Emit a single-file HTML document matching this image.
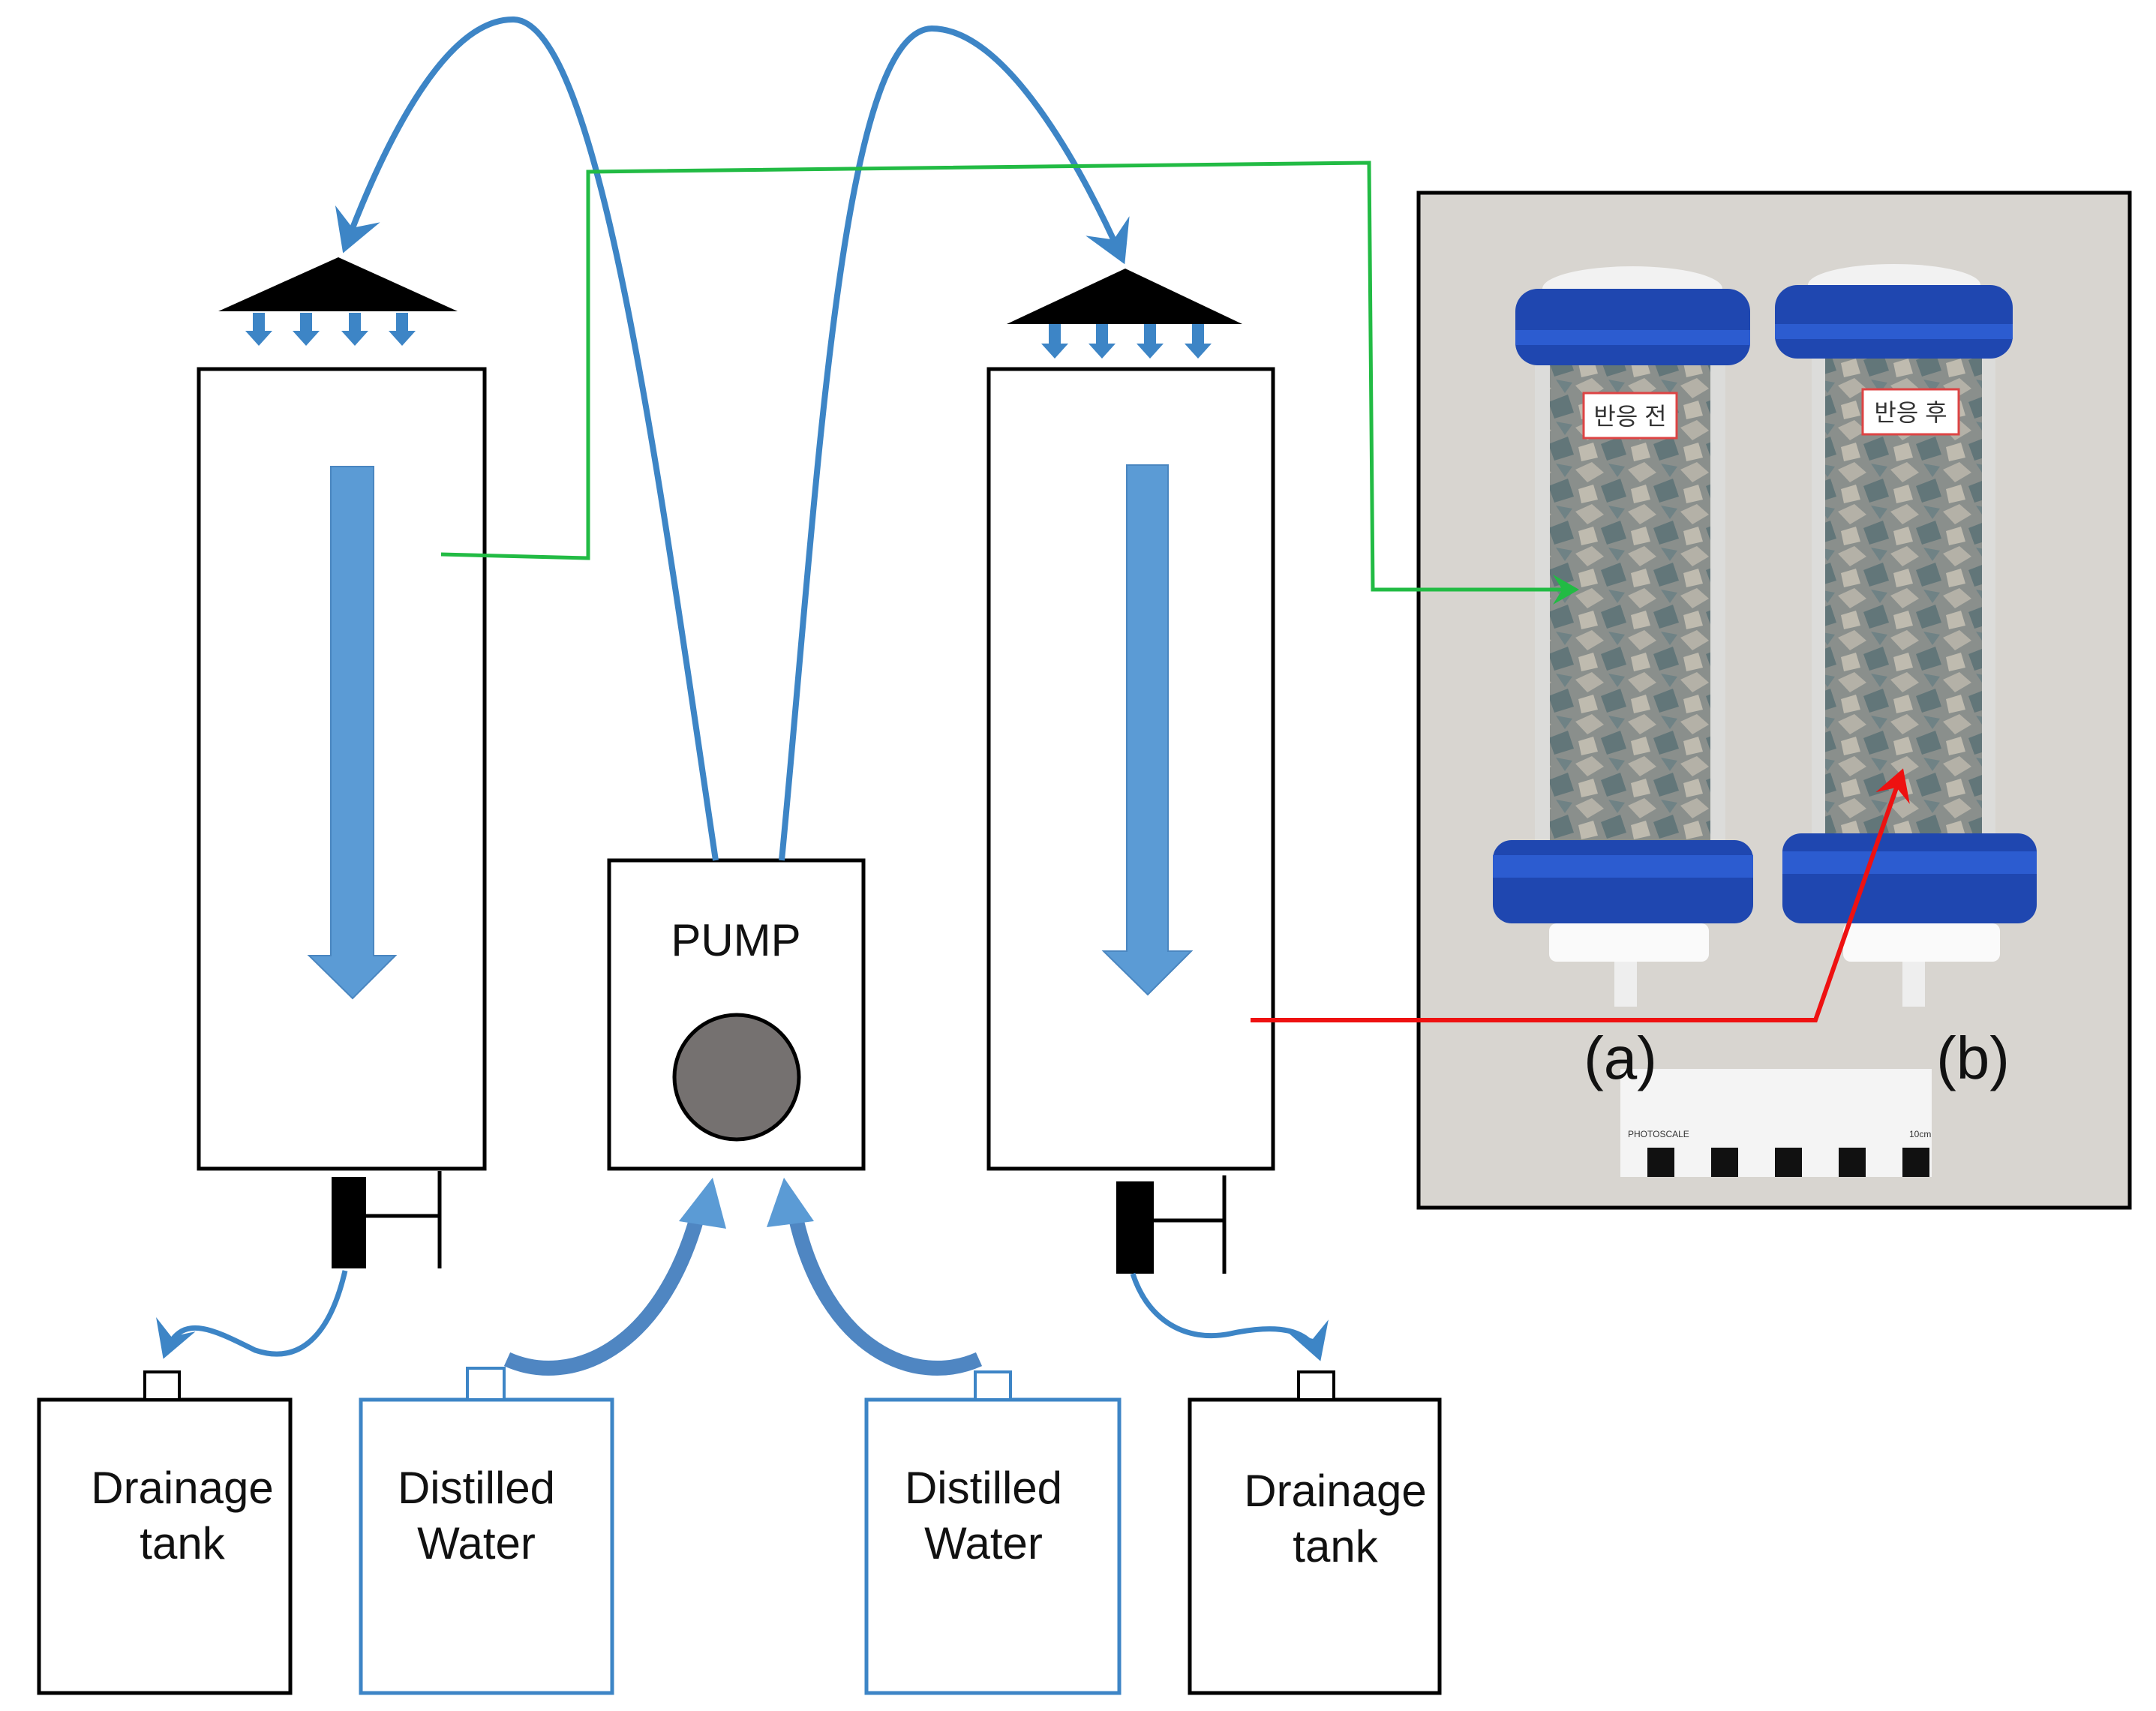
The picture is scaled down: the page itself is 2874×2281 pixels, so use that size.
<!DOCTYPE html>
<html><head><meta charset="utf-8"><style>
html,body{margin:0;padding:0;background:#fff;}
svg{display:block;}
text{font-family:"Liberation Sans","DejaVu Sans",sans-serif;}
</style></head><body>
<svg width="2874" height="2281" viewBox="0 0 2874 2281" xmlns="http://www.w3.org/2000/svg">
<defs>
<marker id="ab" markerWidth="8" markerHeight="8" refX="6" refY="4" orient="auto" markerUnits="strokeWidth">
<path d="M0,0 L7,4 L0,8 L2.5,4 Z" fill="#3d85c6"/></marker>
<marker id="ag" markerWidth="8" markerHeight="8" refX="6" refY="4" orient="auto" markerUnits="strokeWidth">
<path d="M0,0 L7,4 L0,8 L2.5,4 Z" fill="#22bb44"/></marker>
<marker id="ar" markerWidth="8" markerHeight="8" refX="6" refY="4" orient="auto" markerUnits="strokeWidth">
<path d="M0,0 L7,4 L0,8 L2.5,4 Z" fill="#ee1111"/></marker>
<pattern id="grav" width="70" height="56" patternUnits="userSpaceOnUse">
<rect width="70" height="56" fill="#8a8f8c"/>
<path d="M0,10 L22,0 L38,14 L16,27Z" fill="#b4b1a7"/>
<path d="M34,32 L60,22 L68,46 L42,54Z" fill="#627679"/>
<path d="M4,36 L24,30 L30,50 L8,55Z" fill="#bfbbaf"/>
<path d="M44,2 L66,6 L56,20Z" fill="#6f8285"/>
</pattern>
</defs>

<!-- Photo panel -->
<rect x="1891" y="257" width="948" height="1353" fill="#d8d5d0" stroke="#000" stroke-width="5"/>
<!-- cylinder a -->
<rect x="2046" y="470" width="254" height="660" fill="#dcdcda"/>
<rect x="2066" y="470" width="214" height="660" fill="url(#grav)"/>
<ellipse cx="2176" cy="385" rx="120" ry="30" fill="#f2f2f2"/>
<rect x="2020" y="385" width="313" height="102" rx="30" fill="#1f47b0"/>
<rect x="2020" y="440" width="313" height="20" fill="#2c5cd0"/>
<rect x="1990" y="1120" width="347" height="111" rx="25" fill="#1f47b0"/>
<rect x="1990" y="1140" width="347" height="30" fill="#2c5cd0"/>
<rect x="2065" y="1231" width="213" height="51" rx="10" fill="#fafafa"/>
<rect x="2152" y="1282" width="30" height="60" fill="#eee"/>
<rect x="2111" y="524" width="124" height="60" fill="#fff" stroke="#d44" stroke-width="3"/>
<text x="2173" y="566" font-size="32" text-anchor="middle" fill="#333" font-family="Noto Sans CJK KR,sans-serif">반응 전</text>
<!-- cylinder b -->
<rect x="2415" y="465" width="245" height="660" fill="#dcdcda"/>
<rect x="2433" y="465" width="209" height="660" fill="url(#grav)"/>
<ellipse cx="2525" cy="380" rx="115" ry="28" fill="#f2f2f2"/>
<rect x="2366" y="380" width="317" height="98" rx="30" fill="#1f47b0"/>
<rect x="2366" y="432" width="317" height="20" fill="#2c5cd0"/>
<rect x="2376" y="1111" width="339" height="120" rx="25" fill="#1f47b0"/>
<rect x="2376" y="1135" width="339" height="30" fill="#2c5cd0"/>
<rect x="2457" y="1231" width="209" height="51" rx="10" fill="#fafafa"/>
<rect x="2536" y="1282" width="30" height="60" fill="#eee"/>
<rect x="2483" y="519" width="128" height="60" fill="#fff" stroke="#d44" stroke-width="3"/>
<text x="2547" y="561" font-size="32" text-anchor="middle" fill="#333" font-family="Noto Sans CJK KR,sans-serif">반응 후</text>
<!-- scale -->
<rect x="2160" y="1425" width="415" height="144" fill="#f4f4f4"/>
<text x="2170" y="1516" font-size="12" fill="#333" font-family="Liberation Serif,serif">PHOTOSCALE</text>
<text x="2545" y="1516" font-size="12" fill="#333" font-family="Liberation Serif,serif">10cm</text>
<g fill="#111"><rect x="2196" y="1530" width="36" height="39"/><rect x="2281" y="1530" width="36" height="39"/><rect x="2366" y="1530" width="36" height="39"/><rect x="2451" y="1530" width="36" height="39"/><rect x="2536" y="1530" width="36" height="39"/></g>
<text x="2160" y="1438" font-size="80" text-anchor="middle" fill="#111">(a)</text>
<text x="2630" y="1438" font-size="80" text-anchor="middle" fill="#111">(b)</text>

<!-- columns -->
<rect x="265" y="492" width="381" height="1066" fill="#fff" stroke="#000" stroke-width="5"/>
<rect x="1318" y="492" width="379" height="1066" fill="#fff" stroke="#000" stroke-width="5"/>
<path d="M441,622 H498 V1274 H527 L470,1331 L412,1274 H441 Z" fill="#5b9bd5" stroke="#4a86c0" stroke-width="2"/>
<path d="M1502,620 H1557 V1268 H1588 L1530,1326 L1471,1268 H1502 Z" fill="#5b9bd5" stroke="#4a86c0" stroke-width="2"/>
<polygon points="451,343 610,415 291,415" fill="#000"/>
<polygon points="1500,358 1656,432 1342,432" fill="#000"/>
<g fill="#3d85c6">
<path d="M337,417h16v24h10l-18,20l-18,-20h10z"/>
<path d="M400,417h16v24h10l-18,20l-18,-20h10z"/>
<path d="M465,417h16v24h10l-18,20l-18,-20h10z"/>
<path d="M528,417h16v24h10l-18,20l-18,-20h10z"/>
<path d="M1398,432h16v26h10l-18,20l-18,-20h10z"/>
<path d="M1461,432h16v26h10l-18,20l-18,-20h10z"/>
<path d="M1525,432h16v26h10l-18,20l-18,-20h10z"/>
<path d="M1589,432h16v26h10l-18,20l-18,-20h10z"/>
</g>
<!-- pump -->
<rect x="812" y="1147" width="339" height="411" fill="#fff" stroke="#000" stroke-width="5"/>
<text x="981" y="1274" font-size="60" text-anchor="middle" fill="#111">PUMP</text>
<circle cx="982" cy="1436" r="83" fill="#757170" stroke="#000" stroke-width="5"/>
<!-- tubes -->
<path d="M954,1147 C880,650 800,30 685,26 C600,24 520,170 460,330" fill="none" stroke="#3d85c6" stroke-width="8" marker-end="url(#ab)"/>
<path d="M1042,1147 C1090,650 1120,40 1242,38 C1340,38 1440,220 1496,345" fill="none" stroke="#3d85c6" stroke-width="8" marker-end="url(#ab)"/>
<polyline points="588,739 784,744 784,229 1825,217 1830,786 2100,786" fill="none" stroke="#22bb44" stroke-width="5" marker-end="url(#ag)"/>
<polyline points="1667,1360 2420,1360 2535,1030" fill="none" stroke="#ee1111" stroke-width="6" marker-end="url(#ar)"/>
<!-- valves -->
<rect x="442" y="1569" width="46" height="122" fill="#000"/>
<line x1="488" y1="1621" x2="586" y2="1621" stroke="#000" stroke-width="5"/>
<line x1="586" y1="1561" x2="586" y2="1691" stroke="#000" stroke-width="5"/>
<rect x="1488" y="1575" width="50" height="123" fill="#000"/>
<line x1="1538" y1="1627" x2="1632" y2="1627" stroke="#000" stroke-width="5"/>
<line x1="1632" y1="1567" x2="1632" y2="1698" stroke="#000" stroke-width="5"/>
<!-- drain tubes -->
<path d="M460,1694 C440,1780 400,1820 340,1800 C280,1770 240,1750 220,1805" fill="none" stroke="#3d85c6" stroke-width="7" marker-end="url(#ab)"/>
<path d="M1510,1698 C1530,1760 1580,1790 1640,1778 C1700,1765 1745,1770 1758,1808" fill="none" stroke="#3d85c6" stroke-width="7" marker-end="url(#ab)"/>
<!-- supply curved arrows -->
<path d="M676,1812 C760,1850 880,1800 930,1620" fill="none" stroke="#4f86c2" stroke-width="20"/>
<polygon points="905,1628 950,1570 968,1638" fill="#5b9bd5"/>
<path d="M1305,1812 C1220,1850 1100,1800 1060,1620" fill="none" stroke="#4f86c2" stroke-width="20"/>
<polygon points="1022,1636 1045,1570 1085,1628" fill="#5b9bd5"/>
<!-- tanks -->
<rect x="52" y="1866" width="335" height="391" fill="#fff" stroke="#000" stroke-width="5"/>
<rect x="193" y="1829" width="46" height="37" fill="#fff" stroke="#000" stroke-width="4"/>
<rect x="481" y="1866" width="335" height="391" fill="#fff" stroke="#3d85c6" stroke-width="5"/>
<rect x="623" y="1824" width="49" height="42" fill="#fff" stroke="#3d85c6" stroke-width="4"/>
<rect x="1155" y="1866" width="337" height="391" fill="#fff" stroke="#3d85c6" stroke-width="5"/>
<rect x="1300" y="1829" width="47" height="37" fill="#fff" stroke="#3d85c6" stroke-width="4"/>
<rect x="1586" y="1866" width="333" height="391" fill="#fff" stroke="#000" stroke-width="5"/>
<rect x="1731" y="1829" width="47" height="37" fill="#fff" stroke="#000" stroke-width="4"/>
<g font-size="60" text-anchor="middle" fill="#111">
<text x="243" y="2004">Drainage</text><text x="243" y="2078">tank</text>
<text x="635" y="2004">Distilled</text><text x="635" y="2078">Water</text>
<text x="1311" y="2004">Distilled</text><text x="1311" y="2078">Water</text>
<text x="1780" y="2008">Drainage</text><text x="1780" y="2082">tank</text>
</g>
</svg>
</body></html>
